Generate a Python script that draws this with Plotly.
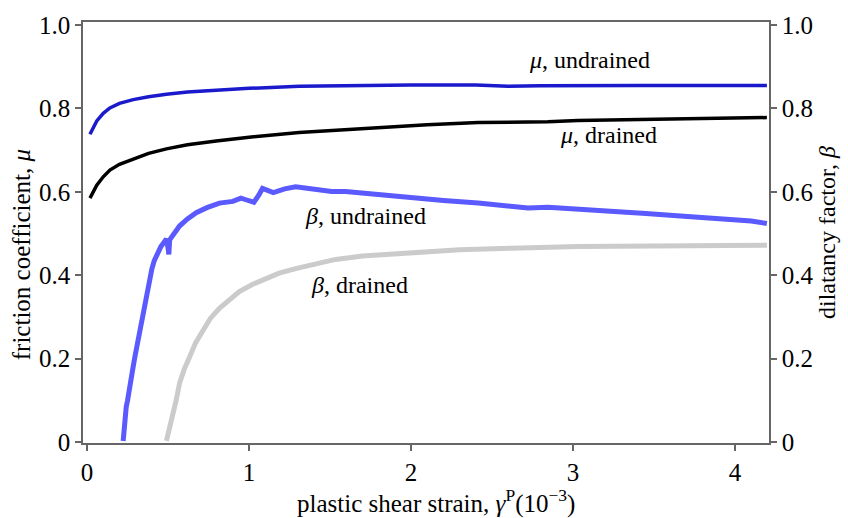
import plotly.graph_objects as go

# ---- data ----
mu_und_x = [0.018, 0.04, 0.06, 0.10, 0.141, 0.2, 0.285, 0.38, 0.49, 0.62, 0.797, 1.0, 1.309, 1.6, 2.0, 2.4, 2.6, 2.8, 3.0, 3.4, 3.8, 4.197]
mu_und_y = [0.738, 0.756, 0.770, 0.788, 0.801, 0.812, 0.821, 0.828, 0.834, 0.839, 0.844, 0.848, 0.853, 0.855, 0.856, 0.856, 0.853, 0.854, 0.855, 0.855, 0.855, 0.855]

mu_dr_x = [0.018, 0.04, 0.06, 0.10, 0.141, 0.2, 0.285, 0.38, 0.49, 0.62, 0.797, 1.0, 1.309, 1.6, 1.8, 2.1, 2.415, 2.845, 3.03, 3.46, 3.8, 4.197]
mu_dr_y = [0.585, 0.602, 0.616, 0.636, 0.652, 0.666, 0.679, 0.692, 0.703, 0.713, 0.722, 0.731, 0.742, 0.749, 0.754, 0.761, 0.766, 0.768, 0.771, 0.774, 0.777, 0.778]

beta_und_x = [0.223, 0.233, 0.242, 0.25, 0.264, 0.28, 0.295, 0.31, 0.326, 0.34, 0.356, 0.37, 0.387, 0.40, 0.415, 0.428, 0.44, 0.455, 0.47, 0.49, 0.50, 0.505, 0.51, 0.53, 0.55, 0.571, 0.62, 0.674, 0.74, 0.817, 0.90, 0.95, 0.981, 1.03, 1.06, 1.083, 1.15, 1.22, 1.288, 1.4, 1.51, 1.596, 1.8, 2.005, 2.2, 2.415, 2.6, 2.722, 2.845, 3.03, 3.255, 3.45, 3.664, 3.85, 3.99, 4.1, 4.197]
beta_und_y = [0.003, 0.062, 0.085, 0.10, 0.141, 0.17, 0.204, 0.235, 0.267, 0.30, 0.329, 0.36, 0.392, 0.415, 0.435, 0.447, 0.458, 0.468, 0.476, 0.487, 0.465, 0.45, 0.485, 0.497, 0.508, 0.518, 0.535, 0.550, 0.562, 0.573, 0.577, 0.585, 0.581, 0.575, 0.592, 0.608, 0.598, 0.607, 0.612, 0.606, 0.601, 0.601, 0.593, 0.585, 0.579, 0.573, 0.566, 0.561, 0.563, 0.559, 0.553, 0.548, 0.542, 0.538, 0.534, 0.530, 0.524]

beta_dr_x = [0.49, 0.51, 0.53, 0.55, 0.571, 0.60, 0.633, 0.67, 0.715, 0.76, 0.817, 0.88, 0.94, 1.02, 1.104, 1.186, 1.288, 1.40, 1.534, 1.7, 2.005, 2.3, 2.62, 3.03, 3.5, 4.0, 4.197]
beta_dr_y = [0.003, 0.035, 0.062, 0.10, 0.141, 0.175, 0.204, 0.238, 0.267, 0.296, 0.321, 0.343, 0.361, 0.378, 0.392, 0.405, 0.416, 0.427, 0.438, 0.446, 0.455, 0.461, 0.465, 0.469, 0.470, 0.471, 0.472]

y_tickvals = [0, 0.2, 0.4, 0.6, 0.8, 1.0]
y_ticktext = ["0", "0.2", "0.4", "0.6", "0.8", "1.0"]
x_tickvals = [0, 1, 2, 3, 4]
x_ticktext = ["0", "1", "2", "3", "4"]

FONT = "Liberation Serif"
AXC = "#666666"

fig = go.Figure()
fig.add_trace(go.Scatter(x=beta_dr_x, y=beta_dr_y, mode="lines", yaxis="y2",
                         line=dict(color="#cbcbcb", width=5), showlegend=False))
fig.add_trace(go.Scatter(x=beta_und_x, y=beta_und_y, mode="lines", yaxis="y2",
                         line=dict(color="#5a5aff", width=5), showlegend=False))
fig.add_trace(go.Scatter(x=mu_dr_x, y=mu_dr_y, mode="lines",
                         line=dict(color="#000000", width=3.5), showlegend=False))
fig.add_trace(go.Scatter(x=mu_und_x, y=mu_und_y, mode="lines",
                         line=dict(color="#1a1acc", width=3.5), showlegend=False))

ann_font = dict(family=FONT, size=24, color="#000000")
anns = [
    (3.10, 0.917, "<i>μ</i>, undrained"),
    (3.22, 0.736, "<i>μ</i>, drained"),
    (1.72, 0.541, "<i>β</i>, undrained"),
    (1.68, 0.376, "<i>β</i>, drained"),
]
for ax_, ay_, t in anns:
    fig.add_annotation(x=ax_, y=ay_, text=t, showarrow=False, font=ann_font,
                       xanchor="center", yanchor="middle")

# axis titles placed as annotations (offset as in the reference)
fig.add_annotation(xref="paper", yref="paper", x=0, y=0.446, xshift=-62,
                   text="friction coefficient, <i>μ</i>", textangle=-90, showarrow=False,
                   font=dict(family=FONT, size=25, color="#000"),
                   xanchor="center", yanchor="middle")
fig.add_annotation(xref="paper", yref="paper", x=0.5, y=0, xshift=10, yshift=-58,
                   text="plastic shear strain, <i>γ</i><sup>P</sup>(10<sup>−3</sup>)",
                   showarrow=False, font=dict(family=FONT, size=25, color="#000"),
                   xanchor="center", yanchor="middle")

yrange = [-0.002, 1.007]
common_y = dict(range=yrange, tickvals=y_tickvals, ticktext=y_ticktext,
                showline=True, linecolor=AXC, linewidth=1.5, ticks="outside",
                ticklen=6, tickcolor=AXC, tickwidth=1.5, showgrid=False, zeroline=False,
                tickfont=dict(family=FONT, size=25, color="#000"))

fig.update_layout(
    width=848, height=518,
    margin=dict(l=83, r=76, t=16, b=75),
    paper_bgcolor="white", plot_bgcolor="white",
    font=dict(family=FONT, size=24, color="#000"),
    xaxis=dict(range=[-0.025, 4.21], tickvals=x_tickvals, ticktext=x_ticktext,
               showline=True, mirror=True, linecolor=AXC, linewidth=1.5,
               ticks="outside", ticklen=6, tickcolor=AXC, tickwidth=1.5,
               showgrid=False, zeroline=False,
               tickfont=dict(family=FONT, size=25, color="#000")),
    yaxis=dict(**common_y),
    yaxis2=dict(**common_y, overlaying="y", side="right",
                title=dict(text="dilatancy factor, <i>β</i>",
                           font=dict(family=FONT, size=24, color="#000"), standoff=6)),
)

fig.write_html("out.html")
